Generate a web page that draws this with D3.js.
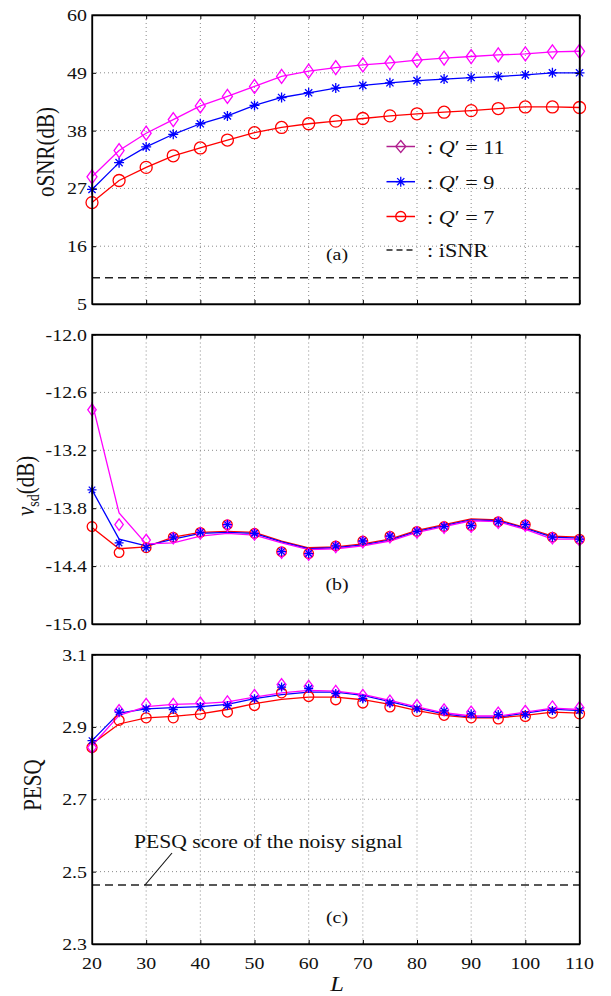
<!DOCTYPE html>
<html><head><meta charset="utf-8">
<script src="https://cdn.jsdelivr.net/npm/d3@7"></script>
<style>body{margin:0;background:#fff}svg{display:block}</style></head>
<body><svg id="c" width="611" height="996"></svg>
<script>
// ---------- data ----------
const L = [20,25,30,35,40,45,50,55,60,65,70,75,80,85,90,95,100,105,110];
const xTicks = [20,30,40,50,60,70,80,90,100,110];

// (a) oSNR (dB)
const osnrQ11 = [29.2,34.2,37.5,40.1,42.7,44.5,46.4,48.3,49.3,50.0,50.5,50.9,51.4,51.8,52.1,52.4,52.6,53.0,53.1];
const osnrQ9  = [26.8,31.9,34.9,37.3,39.3,40.8,42.8,44.3,45.2,46.1,46.6,47.1,47.5,47.8,48.1,48.3,48.6,49.0,49.0];
const osnrQ7  = [24.3,28.5,31.0,33.2,34.7,36.2,37.6,38.6,39.3,39.8,40.3,40.8,41.2,41.5,41.8,42.2,42.5,42.5,42.4];
const iSNR = 10;
const osnrTicks = [5,16,27,38,49,60];

// (b) v_sd (dB): line values and marker values
const vsdLineQ11 = [-12.70,-13.85,-14.17,-14.16,-14.09,-14.06,-14.08,-14.16,-14.23,-14.22,-14.19,-14.14,-14.05,-13.99,-13.93,-13.94,-14.02,-14.12,-14.12];
const vsdLineQ9  = [-13.61,-14.12,-14.19,-14.12,-14.06,-14.05,-14.06,-14.15,-14.22,-14.21,-14.18,-14.13,-14.04,-13.98,-13.92,-13.93,-14.01,-14.10,-14.11];
const vsdLineQ7  = [-14.00,-14.22,-14.20,-14.10,-14.05,-14.04,-14.05,-14.14,-14.21,-14.20,-14.17,-14.12,-14.03,-13.97,-13.91,-13.92,-14.00,-14.09,-14.10];
const vsdMarkQ11 = [-12.78,-13.97,-14.13,-14.11,-14.06,-13.98,-14.07,-14.26,-14.28,-14.20,-14.15,-14.10,-14.05,-14.00,-13.99,-13.95,-13.98,-14.11,-14.13];
const vsdMarkQ9  = [-13.61,-14.16,-14.21,-14.10,-14.05,-13.97,-14.06,-14.25,-14.27,-14.19,-14.14,-14.09,-14.04,-13.99,-13.98,-13.94,-13.97,-14.10,-14.12];
const vsdMarkQ7  = [-13.99,-14.26,-14.21,-14.10,-14.05,-13.97,-14.06,-14.25,-14.27,-14.19,-14.14,-14.09,-14.04,-13.99,-13.98,-13.94,-13.97,-14.10,-14.12];
const vsdTicks = [-15.0,-14.4,-13.8,-13.2,-12.6,-12.0];

// (c) PESQ: line values and marker values
const pesqLineQ11 = [2.848,2.932,2.956,2.962,2.964,2.969,2.982,2.994,3.001,2.999,2.990,2.973,2.955,2.939,2.930,2.930,2.941,2.952,2.948];
const pesqLineQ9  = [2.862,2.938,2.950,2.953,2.956,2.962,2.978,2.989,2.996,2.996,2.987,2.970,2.952,2.936,2.927,2.927,2.938,2.949,2.945];
const pesqLineQ7  = [2.853,2.908,2.925,2.929,2.936,2.948,2.964,2.976,2.982,2.982,2.975,2.962,2.945,2.932,2.925,2.925,2.932,2.941,2.938];
const pesqMarkQ11 = [2.843,2.945,2.962,2.962,2.966,2.969,2.987,3.017,3.012,2.998,2.987,2.971,2.959,2.947,2.941,2.938,2.943,2.955,2.953];
const pesqMarkQ9  = [2.862,2.941,2.950,2.948,2.956,2.959,2.978,3.010,3.006,2.992,2.978,2.966,2.950,2.944,2.936,2.934,2.934,2.945,2.945];
const pesqMarkQ7  = [2.843,2.918,2.925,2.925,2.934,2.941,2.959,2.994,2.984,2.975,2.966,2.955,2.943,2.932,2.925,2.922,2.929,2.938,2.936];
const noisyPESQ = 2.463;
const pesqTicks = [2.3,2.5,2.7,2.9,3.1];

const colors = {Q11:"#ff00ff", Q9:"#0000ff", Q7:"#ff0000"};
const markerTypes = {Q11:"diamond", Q9:"star", Q7:"circle"};

// ---------- layout ----------
const FONT = "'Liberation Serif','Times New Roman',serif";
const SX = 1.17;
const X0 = 92, X1 = 579.5;
const svg = d3.select("#c");
const x = d3.scaleLinear().domain([20,110]).range([X0,X1]);
const hy = f => (v => f(v).replace("\u2212","-"));

function txt(g, px, py, str, size, anchor, opts={}) {
  const t = g.append("text")
    .attr("transform", opts.rotate ? `translate(${px},${py}) rotate(-90) scale(1,${SX})` : `translate(${px},${py}) scale(${SX},1)`)
    .attr("font-family", FONT).attr("font-size", size)
    .attr("text-anchor", anchor).attr("fill", "#111");
  if (opts.italic) t.attr("font-style","italic");
  if (str !== null) t.text(str);
  return t;
}

function drawMarker(g, type, cx, cy, s, color) {
  if (type === "circle") {
    g.append("circle").attr("cx",cx).attr("cy",cy).attr("r",s.r)
      .attr("fill","none").attr("stroke",color).attr("stroke-width",1.3);
  } else if (type === "diamond") {
    g.append("path").attr("d",`M${cx},${cy-s.h}L${cx+s.w},${cy}L${cx},${cy+s.h}L${cx-s.w},${cy}Z`)
      .attr("fill","none").attr("stroke",color).attr("stroke-width",1.3);
  } else {
    const r = s.s, d = r*0.72;
    g.append("path").attr("d",`M${cx},${cy-r}L${cx},${cy+r}M${cx-d},${cy-d}L${cx+d},${cy+d}M${cx-d},${cy+d}L${cx+d},${cy-d}M${cx-r},${cy}L${cx+r},${cy}`)
      .attr("fill","none").attr("stroke",color).attr("stroke-width",1.3);
  }
}

function panel(cfg) {
  const g = svg.append("g");
  const y = d3.scaleLinear().domain(cfg.domain).range([cfg.bottom, cfg.top]);
  const grid = g.append("g").attr("stroke","#8a8a8a").attr("stroke-width",1).attr("stroke-dasharray","1,3");
  xTicks.slice(1,-1).forEach(v => grid.append("line").attr("x1",x(v)).attr("x2",x(v)).attr("y1",cfg.top).attr("y2",cfg.bottom));
  cfg.ticks.slice(1,-1).forEach(v => grid.append("line").attr("x1",X0).attr("x2",X1).attr("y1",y(v)).attr("y2",y(v)));
  if (cfg.ref !== undefined) {
    g.append("line").attr("x1",X0).attr("x2",X1).attr("y1",y(cfg.ref)).attr("y2",y(cfg.ref))
      .attr("stroke","#222").attr("stroke-width",1.3).attr("stroke-dasharray","8,5");
  }
  const line = d3.line().x((d,i)=>x(L[i])).y(d=>y(d));
  cfg.lineOrder.forEach(k => {
    g.append("path").attr("d", line(cfg.lines[k])).attr("fill","none")
      .attr("stroke", colors[k]).attr("stroke-width",1.3);
  });
  cfg.markOrder.forEach(k => {
    cfg.marks[k].forEach((v,i) => drawMarker(g, markerTypes[k], x(L[i]), y(v), cfg.msize, colors[k]));
  });
  const ay = g.append("g").attr("transform",`translate(${X0},0)`)
    .call(d3.axisLeft(y).tickValues(cfg.ticks).tickSize(-4).tickSizeOuter(0).tickPadding(5).tickFormat(cfg.fmt));
  ay.selectAll("text").remove();
  cfg.ticks.forEach(v => txt(g, X0-5, y(v)+6, cfg.fmt(v), 17, "end"));
  g.append("g").attr("transform",`translate(${X1},0)`)
    .call(d3.axisRight(y).tickValues(cfg.ticks).tickSize(-4).tickSizeOuter(0).tickFormat(""));
  g.append("g").attr("transform",`translate(0,${cfg.bottom})`)
    .call(d3.axisBottom(x).tickValues(xTicks).tickSize(-4).tickSizeOuter(0).tickFormat(""));
  g.append("g").attr("transform",`translate(0,${cfg.top})`)
    .call(d3.axisTop(x).tickValues(xTicks).tickSize(-4).tickSizeOuter(0).tickFormat(""));
  if (cfg.xlabels) xTicks.forEach(v => txt(g, x(v), cfg.bottom+25, String(v), 17, "middle"));
  g.selectAll(".domain").attr("stroke","#000").attr("stroke-width",1.3);
  g.selectAll(".tick line").attr("stroke","#000");
  g.append("rect").attr("x",X0).attr("y",cfg.top).attr("width",X1-X0).attr("height",cfg.bottom-cfg.top)
    .attr("fill","none").attr("stroke","#000").attr("stroke-width",1.3);
  txt(g, 337, cfg.tagY, cfg.tag, 17, "middle");
  return {g, y};
}

// (a)
const pa = panel({top:15, bottom:304, domain:[5,60], ticks:osnrTicks, fmt:d3.format("d"),
  ref:iSNR, lines:{Q11:osnrQ11,Q9:osnrQ9,Q7:osnrQ7}, marks:{Q11:osnrQ11,Q9:osnrQ9,Q7:osnrQ7},
  lineOrder:["Q11","Q9","Q7"], markOrder:["Q11","Q9","Q7"], msize:{r:6,h:7,w:5,s:5}, tag:"(a)", tagY:260});
// (b)
const pb = panel({top:334.5, bottom:624, domain:[-15,-12], ticks:vsdTicks, fmt:hy(d3.format(".1f")),
  lines:{Q11:vsdLineQ11,Q9:vsdLineQ9,Q7:vsdLineQ7}, marks:{Q11:vsdMarkQ11,Q9:vsdMarkQ9,Q7:vsdMarkQ7},
  lineOrder:["Q7","Q9","Q11"], markOrder:["Q7","Q11","Q9"], msize:{r:4.8,h:5.8,w:4.2,s:4.5}, tag:"(b)", tagY:590});
// (c)
const pc = panel({top:654.5, bottom:944, domain:[2.3,3.1], ticks:pesqTicks, fmt:d3.format(".1f"),
  ref:noisyPESQ, lines:{Q11:pesqLineQ11,Q9:pesqLineQ9,Q7:pesqLineQ7}, marks:{Q11:pesqMarkQ11,Q9:pesqMarkQ9,Q7:pesqMarkQ7},
  lineOrder:["Q7","Q9","Q11"], markOrder:["Q7","Q11","Q9"], msize:{r:5,h:6,w:4.5,s:4.5}, tag:"(c)", tagY:923, xlabels:true});

// legend in (a)
const legend = [
  {k:"Q11", color:"#b0208f", num:"11"},
  {k:"Q9", color:"#0000ff", num:"9"},
  {k:"Q7", color:"#ff0000", num:"7"}
];
const legY = [146.5, 181.7, 216.5];
legend.forEach((e,i) => {
  const yy = legY[i];
  pa.g.append("line").attr("x1",386.5).attr("x2",415).attr("y1",yy).attr("y2",yy)
    .attr("stroke",e.color).attr("stroke-width",1.5);
  drawMarker(pa.g, markerTypes[e.k], 400.75, yy, {r:5,h:6,w:5,s:5}, e.color);
  const t = txt(pa.g, 427, yy+7, null, 19, "start");
  t.append("tspan").text(": ");
  t.append("tspan").attr("font-style","italic").text("Q");
  t.append("tspan").text("′ = " + e.num);
});
pa.g.append("line").attr("x1",386.5).attr("x2",415).attr("y1",250).attr("y2",250)
  .attr("stroke","#222").attr("stroke-width",1.3).attr("stroke-dasharray","6,4");
txt(pa.g, 427, 257, ": iSNR", 19, "start");

// y-axis labels
txt(svg, 54, 152, "oSNR(dB)", 21, "middle", {rotate:true});
const vl = txt(svg, 34, 486, null, 21, "middle", {rotate:true});
vl.append("tspan").attr("font-style","italic").text("v");
vl.append("tspan").attr("font-size",14).attr("dy",4).text("sd");
vl.append("tspan").attr("dy",-4).text("(dB)");
txt(svg, 41, 785, "PESQ", 21, "middle", {rotate:true});

// x-axis label
txt(svg, 337, 991, "L", 21, "middle", {italic:true});

// annotation in (c)
pc.g.append("line").attr("x1",145).attr("y1",pc.y(noisyPESQ)).attr("x2",172).attr("y2",853)
  .attr("stroke","#111").attr("stroke-width",1.1);
txt(pc.g, 134, 848, "PESQ score of the noisy signal", 18.5, "start");
</script></body></html>
